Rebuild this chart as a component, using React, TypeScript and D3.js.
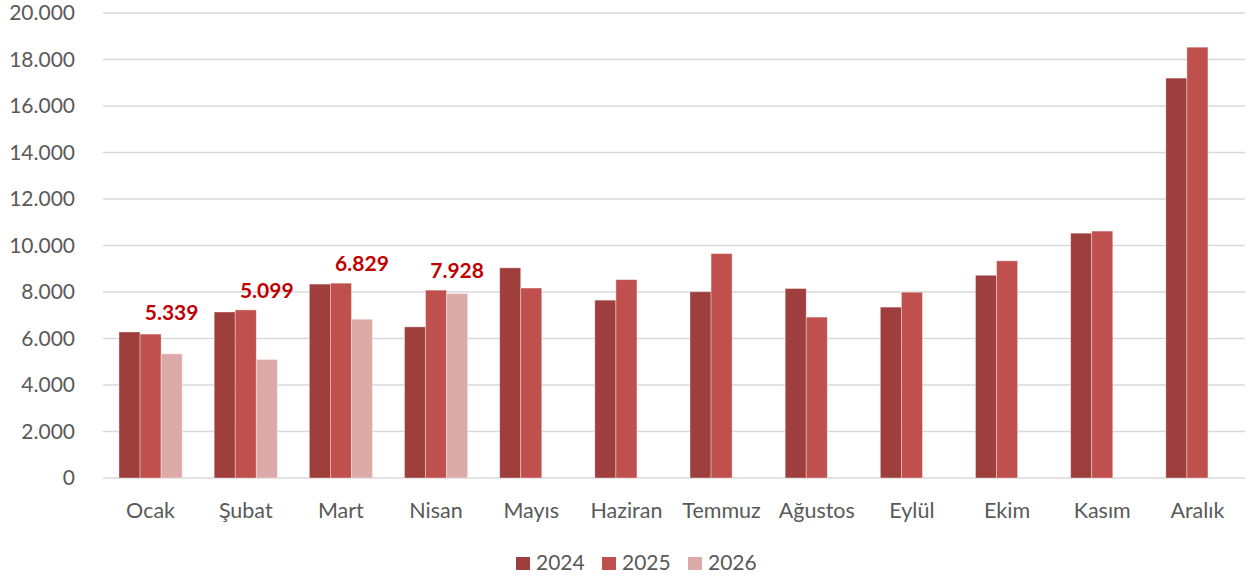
import * as d3 from "d3";
import { useEffect, useRef } from "react";

const months = ["Ocak", "Şubat", "Mart", "Nisan", "Mayıs", "Haziran", "Temmuz", "Ağustos", "Eylül", "Ekim", "Kasım", "Aralık"];
const years = ["2024", "2025", "2026"];
const values2024 = [6280, 7140, 8340, 6500, 9040, 7650, 8010, 8150, 7350, 8720, 10530, 17200];
const values2025 = [6190, 7230, 8380, 8080, 8170, 8530, 9650, 6920, 7990, 9340, 10620, 18530];
const values2026 = [5339, 5099, 6829, 7928];
const yTicks = [0, 2000, 4000, 6000, 8000, 10000, 12000, 14000, 16000, 18000, 20000];
const colors = ["#9E3F3E", "#C0504D", "#DBAAA9"];

const W = 1249;
const H = 581;
const font = "Lato, 'Open Sans', sans-serif";
const fmt = (v: number) => d3.format(",")(v).replace(/,/g, ".");

export default function App() {
  const ref = useRef<SVGSVGElement>(null);

  useEffect(() => {
    if (!ref.current) return;
    const svg = d3.select(ref.current);
    svg.selectAll("*").remove();

    const x = d3.scaleBand().domain(months).range([103, 1245]).paddingInner(0).paddingOuter(0);
    const inner = d3.scaleBand().domain(years).range([0, x.bandwidth()]).paddingInner(0).paddingOuter(0.76);
    const y = d3.scaleLinear().domain([0, 20000]).range([478, 13]);

    // grid + y labels
    svg.append("g")
      .selectAll("line")
      .data(yTicks)
      .join("line")
      .attr("x1", 103)
      .attr("x2", 1245)
      .attr("y1", d => y(d))
      .attr("y2", d => y(d))
      .attr("stroke", "#D9D9D9")
      .attr("stroke-width", 1.5);

    svg.append("g")
      .selectAll("text")
      .data(yTicks)
      .join("text")
      .attr("x", 75)
      .attr("y", d => y(d))
      .attr("dy", "0.35em")
      .attr("text-anchor", "end")
      .attr("fill", "#595959")
      .attr("font-family", font)
      .attr("font-size", 21)
      .text(d => fmt(d));

    const series = [values2024, values2025, values2026];
    series.forEach((vals, si) => {
      svg.append("g")
        .selectAll("rect")
        .data(vals)
        .join("rect")
        .attr("x", (_, i) => (x(months[i]) ?? 0) + (inner(years[si]) ?? 0))
        .attr("width", inner.bandwidth())
        .attr("y", d => y(d))
        .attr("height", d => y(0) - y(d))
        .attr("fill", colors[si])
        .attr("stroke", "#ffffff")
        .attr("stroke-opacity", 0.45)
        .attr("stroke-width", 0.8);
    });

    // 2026 value labels
    svg.append("g")
      .selectAll("text")
      .data(values2026)
      .join("text")
      .attr("x", (_, i) => (x(months[i]) ?? 0) + (inner("2026") ?? 0) + inner.bandwidth() / 2)
      .attr("y", (_, i) => y(Math.max(values2024[i], values2025[i])) - 12)
      .attr("text-anchor", "middle")
      .attr("fill", "#C00000")
      .attr("font-family", font)
      .attr("font-weight", "bold")
      .attr("font-size", 21)
      .text(d => fmt(d));

    // x labels
    svg.append("g")
      .selectAll("text")
      .data(months)
      .join("text")
      .attr("x", d => (x(d) ?? 0) + x.bandwidth() / 2)
      .attr("y", 510)
      .attr("dy", "0.35em")
      .attr("text-anchor", "middle")
      .attr("fill", "#595959")
      .attr("font-family", font)
      .attr("font-size", 21.5)
      .text(d => d);

    // legend
    const lg = svg.append("g").selectAll("g").data(years).join("g")
      .attr("transform", (_, i) => `translate(${516 + i * 86},557)`);
    lg.append("rect").attr("width", 14).attr("height", 13).attr("fill", (_, i) => colors[i]);
    lg.append("text")
      .attr("x", 20)
      .attr("y", 6)
      .attr("dy", "0.35em")
      .attr("fill", "#595959")
      .attr("font-family", font)
      .attr("font-size", 21)
      .text(d => d);
  }, []);

  return <svg ref={ref} width={W} height={H} style={{ position: "absolute", left: 0, top: 0, background: "#fff" }} />;
}
